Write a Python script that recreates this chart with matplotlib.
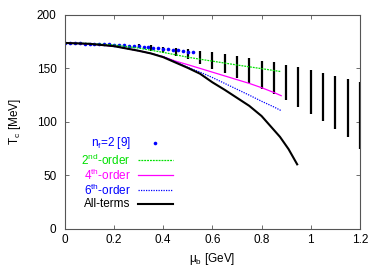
import numpy as np
import matplotlib
matplotlib.use('Agg')
import matplotlib.pyplot as plt
from matplotlib.lines import Line2D

plt.rcParams['font.family'] = ['Liberation Sans', 'DejaVu Sans']
plt.rcParams['mathtext.fontset'] = 'custom'
plt.rcParams['mathtext.rm'] = 'Liberation Sans'
plt.rcParams['mathtext.it'] = 'Liberation Sans:italic'

# n_f = 2 [9] points
mu_nf2 = [0.00, 0.02, 0.04, 0.06, 0.08, 0.10, 0.12, 0.14, 0.16, 0.18, 0.20, 0.22, 0.24,
          0.26, 0.28, 0.30, 0.32, 0.34, 0.36, 0.38, 0.40, 0.42, 0.44, 0.46, 0.48, 0.50, 0.52]
T_nf2 = [173.5, 173.5, 173.5, 173.4, 173.3, 173.2, 173.1, 172.9, 172.7, 172.5, 172.3, 172.0, 171.7,
         171.4, 171.1, 170.7, 170.3, 169.9, 169.5, 169.0, 168.5, 168.0, 167.5, 166.9, 166.4, 165.8, 165.1]

# expansion curves
mu_2nd = [0.0, 0.1, 0.2, 0.3, 0.4, 0.5, 0.55, 0.6, 0.7, 0.8, 0.88]
T_2nd = [173.8, 173.3, 171.9, 169.0, 165.0, 160.5, 158.6, 156.8, 153.2, 149.8, 147.0]

mu_4th = [0.0, 0.1, 0.2, 0.3, 0.35, 0.4, 0.45, 0.5, 0.55, 0.6, 0.65, 0.7, 0.75, 0.8, 0.85, 0.88]
T_4th = [173.8, 173.0, 170.8, 166.6, 164.0, 161.0, 156.8, 153.5, 150.0, 146.5, 143.0, 139.5, 136.0, 132.0, 127.5, 124.5]

mu_6th = [0.0, 0.1, 0.2, 0.3, 0.35, 0.4, 0.45, 0.5, 0.55, 0.6, 0.65, 0.7, 0.75, 0.8, 0.85, 0.88]
T_6th = [173.8, 173.0, 170.8, 166.5, 164.0, 161.0, 156.0, 151.0, 146.5, 141.5, 136.0, 130.5, 125.0, 119.3, 114.0, 110.5]

mu_all = [0.0, 0.1, 0.2, 0.3, 0.35, 0.4, 0.45, 0.5, 0.55, 0.6, 0.65, 0.7, 0.75, 0.8, 0.85, 0.875, 0.91, 0.945]
T_all = [173.8, 173.0, 170.8, 166.5, 164.0, 160.5, 155.5, 150.5, 145.0, 137.0, 130.0, 122.5, 115.0, 105.5, 92.5, 86.0, 74.5, 60.3]

# vertical bands (lower / upper ends)
mu_bar = [0.30, 0.35, 0.40, 0.45, 0.50, 0.55, 0.60, 0.65, 0.70, 0.75,
          0.80, 0.85, 0.90, 0.95, 1.00, 1.05, 1.10, 1.15, 1.20]
T_bar_hi = [172.5, 171.5, 170.0, 169.0, 168.0, 166.5, 165.5, 163.5, 161.7, 159.5,
            157.3, 155.6, 153.3, 151.1, 148.6, 145.8, 143.0, 140.2, 137.3]
T_bar_lo = [169.0, 166.5, 164.2, 161.7, 158.5, 154.0, 149.8, 145.5, 140.8, 136.2,
            130.6, 126.0, 120.0, 113.7, 107.3, 100.6, 93.2, 86.0, 75.0]

labels = [r'n$_{\rm f}$=2 [9]', r'2$^{\rm nd}$-order', r'4$^{\rm th}$-order',
          r'6$^{\rm th}$-order', 'All-terms']
colors = ['#0000ff', '#00e000', '#ff00ff', '#0000ff', 'black']

fig = plt.figure(figsize=(3.82, 2.67), dpi=100)
ax = fig.add_axes([0.170, 0.143, 0.772, 0.801])

ax.vlines(mu_bar, T_bar_lo, T_bar_hi, colors='black', linewidth=1.6)
ax.plot(mu_nf2, T_nf2, 'o', color=colors[0], markersize=2.6, markeredgewidth=0)
ax.plot(mu_2nd, T_2nd, color=colors[1], linewidth=0.9, dashes=(1.5, 0.8))
ax.plot(mu_4th, T_4th, color=colors[2], linewidth=0.9)
ax.plot(mu_6th, T_6th, color=colors[3], linewidth=0.9, dashes=(1, 1))
ax.plot(mu_all, T_all, color=colors[4], linewidth=1.5)

ax.set_xlim(0, 1.2)
ax.set_ylim(0, 200)
ax.set_xticks(np.arange(0, 1.21, 0.2))
ax.set_xticklabels(['0', '0.2', '0.4', '0.6', '0.8', '1', '1.2'])
ax.set_yticks([0, 50, 100, 150, 200])
ax.tick_params(direction='in', top=True, right=True, length=3, width=0.6,
               labelsize=8.5, color='#555555')
ax.tick_params(axis='y', pad=6)
ax.tick_params(axis='x', pad=4)
for s in ax.spines.values():
    s.set_linewidth(0.8)
    s.set_color('#555555')

ax.set_xlabel('μ$_{\\rm b}$ [GeV]', fontsize=8.5, labelpad=3)
ax.set_ylabel(r'T$_{\rm c}$ [MeV]', fontsize=8.5, labelpad=10)

# gnuplot-style key: text right-aligned, sample to its right
rows = [0.401, 0.321, 0.251, 0.180, 0.115]
styles = [dict(linestyle='none', marker='o', markersize=2.6, markeredgewidth=0),
          dict(linewidth=0.9, dashes=(1.5, 0.8)),
          dict(linewidth=0.9),
          dict(linewidth=0.9, dashes=(1, 1)),
          dict(linewidth=1.5)]
for y, lab, c, st in zip(rows, labels, colors, styles):
    ax.text(0.223, y, lab, color=c, fontsize=8.5, ha='right', va='center',
            transform=ax.transAxes)
    if st.get('marker'):
        ax.add_line(Line2D([0.307], [y], color=c, transform=ax.transAxes, **st))
    else:
        ax.add_line(Line2D([0.247, 0.366], [y, y], color=c, transform=ax.transAxes, **st))

fig.savefig('out.png', dpi=100)
